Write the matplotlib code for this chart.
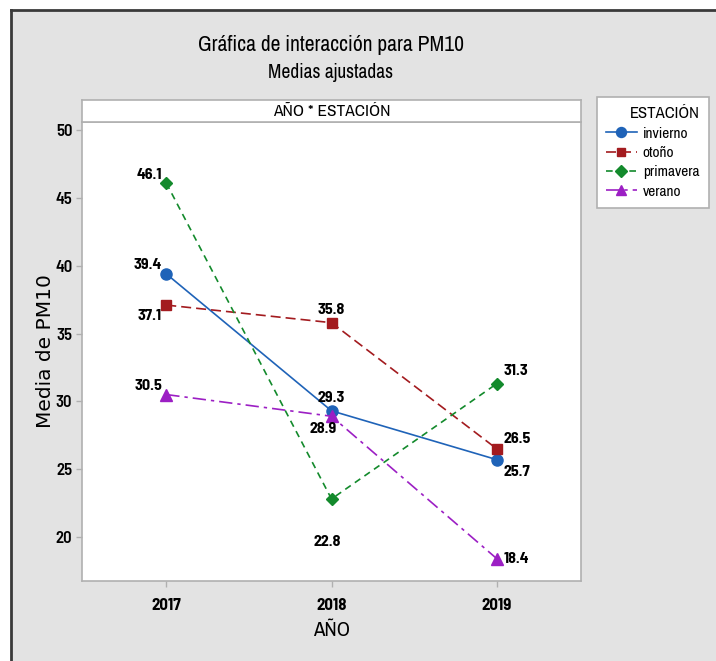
import matplotlib.pyplot as plt
from matplotlib.patches import Rectangle
from matplotlib.lines import Line2D

# Data
years = ['2017', '2018', '2019']
seasons = ['invierno', 'otoño', 'primavera', 'verano']
invierno = [39.4, 29.3, 25.7]
otono = [37.1, 35.8, 26.5]
primavera = [46.1, 22.8, 31.3]
verano = [30.5, 28.9, 18.4]
y_ticks = [20, 25, 30, 35, 40, 45, 50]

narrow = ['Archivo Narrow', 'Liberation Sans Narrow', 'DejaVu Sans']
narrow_b = ['Barlow Semi Condensed', 'Liberation Sans Narrow', 'DejaVu Sans']
bg = '#e3e3e3'

fig = plt.figure(figsize=(7.16, 6.61), dpi=100)
fig.patch.set_facecolor('white')

# gray panel with dark top/left border
W, H = 716, 661
fig.patches.append(Rectangle((11 / W, 0), 1, 1 - 10 / H, transform=fig.transFigure,
                             facecolor=bg, edgecolor='none', zorder=-10))
fig.lines.append(Line2D([11 / W, 1], [1 - 10 / H, 1 - 10 / H], transform=fig.transFigure,
                        color='#3a3a3a', lw=2, zorder=-5))
fig.lines.append(Line2D([11 / W, 11 / W], [0, 1 - 10 / H], transform=fig.transFigure,
                        color='#3a3a3a', lw=2, zorder=-5))

ax = fig.add_axes([82 / W, 1 - 581 / H, (581 - 82) / W, (581 - 122) / H])
ax.set_facecolor('white')

styles = [
    ('invierno', invierno, '#1f63b8', 'o', '-', 8),
    ('otoño', otono, '#a31b1f', 's', (0, (6, 3)), 7),
    ('primavera', primavera, '#138a2c', 'D', (0, (4, 3)), 6.5),
    ('verano', verano, '#9c1fc4', '^', (0, (8, 3, 2, 3)), 8),
]
x = range(len(years))
for name, vals, col, mk, ls, ms in styles:
    ax.plot(x, vals, color=col, marker=mk, ls=ls, lw=1.2, ms=ms, label=name, zorder=3)

# value labels (offsets in points)
offsets = {
    'invierno': [(-3, 1, 'right', 'bottom'), (0, 4, 'center', 'bottom'), (5, -4, 'left', 'top')],
    'otoño': [(-3, -3, 'right', 'top'), (0, 4, 'center', 'bottom'), (5, 2, 'left', 'bottom')],
    'primavera': [(-3, 1, 'right', 'bottom'), (-3, -26, 'center', 'top'), (5, 4, 'left', 'bottom')],
    'verano': [(-3, 1, 'right', 'bottom'), (-6, -4, 'center', 'top'), (5, 0, 'left', 'center')],
}
for name, vals, col, mk, ls, ms in styles:
    for i, v in enumerate(vals):
        dx, dy, ha, va = offsets[name][i]
        ax.annotate(f'{v}', (i, v), xytext=(dx, dy), textcoords='offset points',
                    ha=ha, va=va, fontsize=11.5, fontweight='bold', family=narrow_b, zorder=4)

ax.set_xlim(-0.51, 2.51)
ax.set_ylim(16.75, 50.6)
ax.set_xticks(list(x))
ax.set_xticklabels(years, fontsize=12, fontweight='bold', family=narrow_b)
ax.set_yticks(y_ticks)
ax.set_yticklabels([str(t) for t in y_ticks], fontsize=12, fontweight='semibold', family=narrow_b)
ax.tick_params(color='#b0b0b0', length=4, width=1, pad=3)
for s in ax.spines.values():
    s.set_color('#b0b0b0')
    s.set_linewidth(1.2)
ax.tick_params(axis='x', pad=8)

ax.set_ylabel('Media de PM10', fontsize=14.5, fontweight='medium', labelpad=0)
ax.set_xlabel('AÑO', fontsize=15, family=narrow, labelpad=6)

# strip above the panel
strip = fig.add_axes([82 / W, 1 - 122 / H, (581 - 82) / W, 22 / H])
strip.set_facecolor('white')
strip.set_xticks([])
strip.set_yticks([])
for s in strip.spines.values():
    s.set_color('#b0b0b0')
    s.set_linewidth(1.2)
strip.text(0.5, 0.5, 'AÑO * ESTACIÓN', ha='center', va='center', fontsize=12.5, family=narrow)

fig.text(331 / W, 1 - 45 / H, 'Gráfica de interacción para PM10', ha='center', va='center',
         fontsize=15.5, family=narrow)
fig.text(331 / W, 1 - 72 / H, 'Medias ajustadas', ha='center', va='center',
         fontsize=14, family=narrow)

leg = fig.legend(loc='upper left', bbox_to_anchor=(597 / W, 1 - 97 / H), title='ESTACIÓN',
                 prop={'family': narrow, 'size': 11}, title_fontproperties={'family': narrow, 'size': 12},
                 frameon=True, fancybox=False, edgecolor='#b0b0b0', facecolor='white', framealpha=1,
                 handlelength=2.0, borderpad=0.6, labelspacing=0.35, handletextpad=0.4,
                 borderaxespad=0, markerscale=0.9)
leg.get_frame().set_linewidth(1.2)
leg._legend_box.align = 'right'

fig.savefig('out.png', dpi=100, facecolor=fig.get_facecolor())
